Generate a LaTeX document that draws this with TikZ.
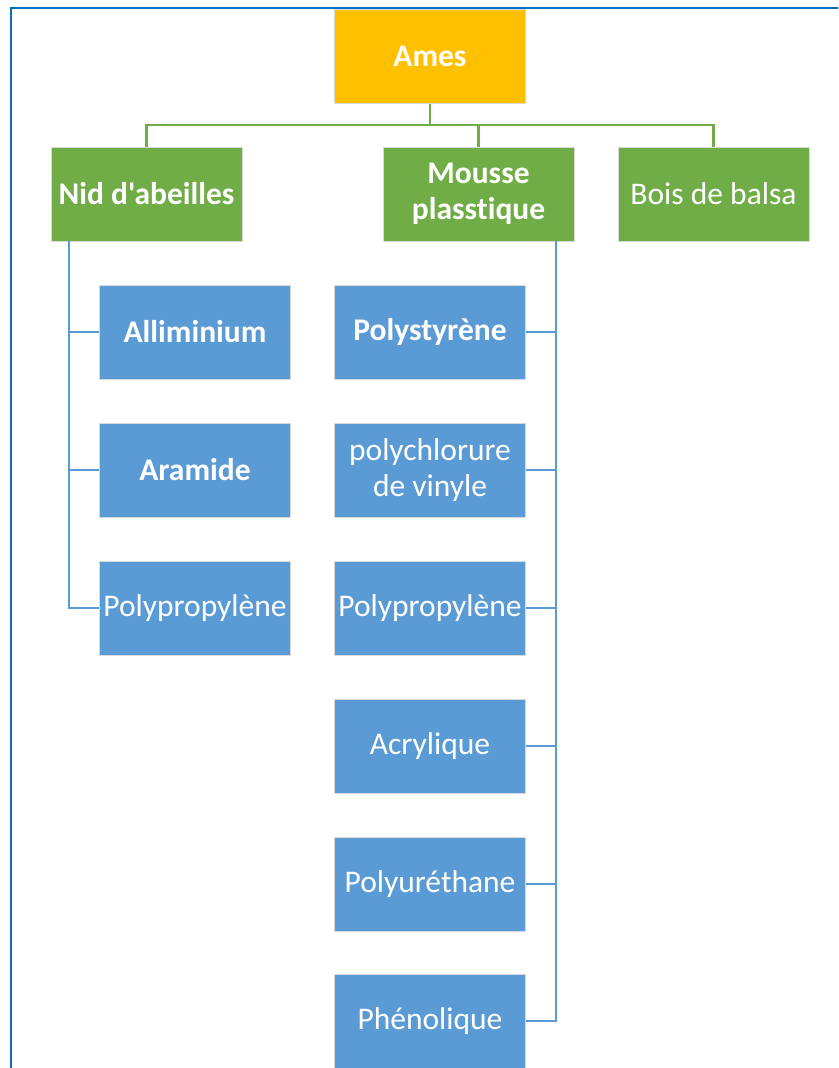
\documentclass[tikz,border=0pt]{standalone}
\usepackage{fontspec}
\newfontfamily\calfont[Ligatures=NoCommon]{Carlito}
\definecolor{gold}{HTML}{FFC000}
\definecolor{lgreen}{HTML}{70AD47}
\definecolor{lblue}{HTML}{5B9BD5}
\definecolor{framec}{HTML}{0070C0}
\begin{document}
\begin{tikzpicture}[x=1pt,y=-1pt,
  box/.style={rectangle, draw=white!85!black, line width=0.6pt, minimum width=191pt, minimum height=94pt,
    text=white, align=center, inner sep=0pt, font=\calfont\fontsize{31.5}{36}\selectfont},
  bbox/.style={box, font=\calfont\fontsize{31.5}{36}\selectfont\bfseries},
  gline/.style={draw=lgreen, line width=2.6pt},
  bline/.style={draw=lblue, line width=2.6pt}]
\useasboundingbox (0,0) rectangle (838,1068);
\clip (0,0) rectangle (838,1068);
\fill[white] (0,0) rectangle (838,1068);
\draw[framec, line width=2pt] (10.5,1200) -- (10.5,7.5) -- (900,7.5);

\node[bbox, fill=gold] (ames) at (430,56.5) {Ames};
\node[bbox, fill=lgreen] (nid) at (146.5,194) {Nid d'abeilles};
\node[bbox, fill=lgreen] (mousse) at (478.5,194) {Mousse\\plasstique};
\node[box, fill=lgreen] (bois) at (713.5,194) {Bois de balsa};

\node[bbox, fill=lblue] (a1) at (195,332) {Alliminium};
\node[bbox, fill=lblue] (a2) at (195,470) {Aramide};
\node[box, fill=lblue] (a3) at (195,608) {Polypropylène};

\node[bbox, fill=lblue] (m1) at (430,332) {Polystyrène};
\node[box, fill=lblue] (m2) at (430,470) {polychlorure\\de vinyle};
\node[box, fill=lblue] (m3) at (430,608) {Polypropylène};
\node[box, fill=lblue] (m4) at (430,746) {Acrylique};
\node[box, fill=lblue] (m5) at (430,884) {Polyuréthane};
\node[box, fill=lblue] (m6) at (430,1021) {Phénolique};

\coordinate (gb) at (430,125);
\coordinate (lb) at (69,241);
\coordinate (rb) at (556,241);

\draw[gline] (ames.south) -- (gb);
\draw[gline] (gb) -| (nid.north);
\draw[gline] (gb) -| (mousse.north);
\draw[gline] (gb) -| (bois.north);

\draw[bline] (lb) |- (a1.west);
\draw[bline] (lb) |- (a2.west);
\draw[bline] (lb) |- (a3.west);

\draw[bline] (rb) |- (m1.east);
\draw[bline] (rb) |- (m2.east);
\draw[bline] (rb) |- (m3.east);
\draw[bline] (rb) |- (m4.east);
\draw[bline] (rb) |- (m5.east);
\draw[bline] (rb) |- (m6.east);
\end{tikzpicture}
\end{document}
